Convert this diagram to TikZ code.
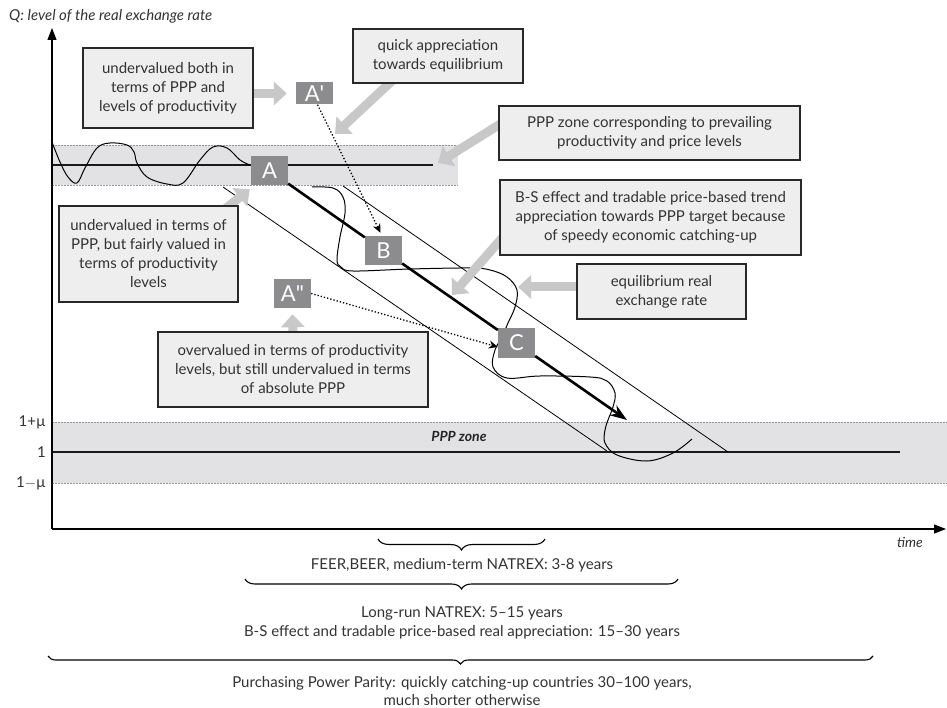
\documentclass[tikz,border=0pt]{standalone}
\usepackage{fontspec}
\setmainfont{Lato}
\usetikzlibrary{arrows.meta,decorations.pathreplacing,calc}
\definecolor{txt}{RGB}{50,50,50}
\definecolor{boxfill}{RGB}{238,238,238}
\definecolor{boxdraw}{RGB}{40,40,40}
\definecolor{letterfill}{RGB}{140,140,142}
\definecolor{bandfill}{RGB}{226,226,228}
\definecolor{arrowgray}{RGB}{200,200,200}
\definecolor{dotgray}{RGB}{150,150,150}
\pgfdeclarelayer{bg}
\pgfdeclarelayer{mid}
\pgfsetlayers{bg,mid,main}
\begin{document}
\begin{tikzpicture}[x=1pt,y=-1pt,
  infobox/.style={draw=boxdraw, line width=1.1pt, fill=boxfill, text=txt, align=center, inner sep=0pt, font=\fontsize{15}{19}\selectfont},
  letterbox/.style={fill=letterfill, text=white, inner sep=0pt, minimum width=37pt, minimum height=29pt, font=\fontsize{22}{22}\selectfont},
  grayarrow/.style={draw=arrowgray, line width=9pt, -{Triangle[width=23pt,length=13pt]}},
  dotarrow/.style={dotted, line width=1.3pt, -{Stealth[length=9pt,width=8pt]}},
  trendline/.style={line width=2.6pt},
  thinline/.style={line width=0.8pt},
  levelline/.style={line width=2pt, draw=black!90},
  banddots/.style={draw=dotgray, line width=0.8pt, dash pattern=on 1.5pt off 1.5pt},
  wave/.style={line width=1pt},
  axis/.style={line width=1.2pt},
  plainlabel/.style={text=txt, inner sep=0pt, font=\fontsize{15}{19}\selectfont, align=center},
  bracestyle/.style={line width=1.1pt, decorate, decoration={brace, mirror, amplitude=#1}}
]
\useasboundingbox (0,0) rectangle (947,708);

% ---- background layer: bands, level lines, channel, waves, axes
\begin{pgfonlayer}{bg}
  \fill[bandfill] (52,145) rectangle (458,185);
  \draw[banddots] (52,145) -- (458,145);
  \draw[banddots] (52,185) -- (458,185);
  \fill[bandfill] (52,422) rectangle (947,483);
  \draw[banddots] (52,422) -- (947,422);
  \draw[banddots] (52,483) -- (947,483);
  \draw[levelline] (52,165) -- (433,165);
  \draw[levelline] (52,452) -- (900,452);
  % channel
  \draw[thinline] (223,187) -- (607,451);
  \draw[thinline] (343,186) -- (728,452);
  % waves
  \draw[wave] plot[smooth, tension=0.6] coordinates {(52,142) (60,162) (68,177) (77,183) (85,168) (97,148) (110,143) (127,145) (134,152) (137,163) (147,177) (167,184) (183,183) (200,160) (213,147) (227,148) (240,160) (250,165)};
  \draw[wave] plot[smooth, tension=0.6] coordinates {(312,187) (333,188) (343,197) (345,213) (340,237) (337,260) (341,267) (353,271) (410,269) (470,268) (490,270) (507,277) (517,290) (515,307) (508,323) (502,337) (495,350) (493,367) (507,378) (540,376) (590,377) (607,381) (615,393) (613,407) (608,420) (605,430) (605,443) (617,455) (647,461) (673,453) (692,439)};
  % axes
  \coordinate (O) at (52,529);
  \coordinate (ytop) at (52,28);
  \coordinate (xend) at (946,529);
  \draw[axis, -{Triangle[length=12pt,width=9pt]}] (O) -- (ytop);
  \draw[axis, -{Triangle[length=12pt,width=9pt]}] (O) -- (xend);
\end{pgfonlayer}

% ---- nodes
\node[infobox, minimum width=170pt, minimum height=80pt] (b1) at (168,88) {undervalued both in\\terms of PPP and\\levels of productivity};
\node[infobox, minimum width=170pt, minimum height=54pt] (b2) at (438,56) {quick appreciation\\towards equilibrium};
\node[infobox, minimum width=301pt, minimum height=54pt] (b3) at (649.5,133) {PPP zone corresponding to prevailing\\productivity and price levels};
\node[infobox, minimum width=301pt, minimum height=75pt] (b4) at (650.5,217.5) {B-S effect and tradable price-based trend\\appreciation towards PPP target because\\of speedy economic catching-up};
\node[infobox, minimum width=169pt, minimum height=55pt] (b5) at (661.5,291.5) {equilibrium real\\exchange rate};
\node[infobox, minimum width=179pt, minimum height=96pt] (b6) at (148.5,254) {undervalued in terms of\\PPP, but fairly valued in\\terms of productivity\\levels};
\node[infobox, minimum width=270pt, minimum height=75pt] (b7) at (293,369.5) {overvalued in terms of productivity\\levels, but still undervalued in terms\\of absolute PPP};

\node[letterbox] (A) at (269.5,170.5) {A};
\node[letterbox, minimum height=22pt] (A1) at (314.5,93.5) {A\textquotesingle};
\node[letterbox] (B) at (383.5,250.5) {B};
\node[letterbox] (A2) at (292.5,293.5) {A\textquotedbl};
\node[letterbox] (C) at (516.5,343) {C};

% free ends
\coordinate (tipT) at (627,420);
\coordinate (t2) at (335,134);
\coordinate (t3) at (438,163);
\coordinate (t4) at (452,295);
\coordinate (t5) at (518,287);

% ---- gray arrows (under boxes)
\begin{pgfonlayer}{mid}
  \draw[grayarrow] ([xshift=-2pt]b1.east |- A1.west) -- ([xshift=-9pt]A1.west);
  \draw[grayarrow] ($(b2.south west)+(42,-5)$) -- (t2);
  \draw[grayarrow] ($(b3.west)+(5,-11)$) -- (t3);
  \draw[grayarrow] ($(b4.south west)+(4,-19)$) -- (t4);
  \draw[grayarrow] ($(b5.west)+(5,-4.5)$) -- (t5);
  \draw[grayarrow] ($(b6.north east)+(-14,4)$) -- ($(A.south west)+(-1,4)$);
  \draw[grayarrow] ($(b7.north)+(0,4)$) -- ($(A2.south)+(0,6)$);
\end{pgfonlayer}

% ---- trend arrow
\draw[trendline] (A) -- (B);
\draw[trendline] (B) -- (C);
\draw[trendline, -{Stealth[length=17pt,width=12pt]}] (C) -- (tipT);

% ---- dotted arrows
\draw[dotarrow] ([xshift=3pt]A1.south) -- ([xshift=-3pt,yshift=3pt]B.north);
\draw[dotarrow] (A2.east) -- ([yshift=-4pt]C.west);

% ---- labels
\node[text=txt, anchor=west, inner sep=0pt, font=\fontsize{15}{16}\selectfont\itshape] (qlab) at (9,16) {Q: level of the real exchange rate};
\node[text=txt, inner sep=0pt, font=\fontsize{14}{16}\selectfont\itshape] (tlab) at (910,542) {time};
\node[text=black!85, inner sep=0pt, font=\fontsize{14}{16}\selectfont\bfseries\itshape] (pz) at (459,436) {PPP zone};
\node[text=txt, anchor=east, inner sep=0pt, font=\fontsize{15}{16}\selectfont] (l1) at (46,422) {1+µ};
\node[text=txt, anchor=east, inner sep=0pt, font=\fontsize{15}{16}\selectfont] (l2) at (46,452) {1};
\node[text=txt, anchor=east, inner sep=0pt, font=\fontsize{15}{16}\selectfont] (l3) at (46,483) {1$-$µ};

% ---- braces
\draw[bracestyle=11pt] (378,539) -- (545,539);
\node[plainlabel] (br1) at (462,565) {FEER,BEER, medium-term NATREX: 3-8 years};
\draw[bracestyle=10pt] (245,579) -- (678,579);
\node[plainlabel] (br2) at (462,622.5) {Long-run NATREX: 5–15 years\\B-S effect and tradable price-based real appreciation: 15–30 years};
\draw[bracestyle=8pt] (48,656) -- (873,656);
\node[plainlabel, font=\fontsize{15}{18}\selectfont] (br3) at (462,691) {Purchasing Power Parity: quickly catching-up countries 30–100 years,\\much shorter otherwise};
\end{tikzpicture}
\end{document}
